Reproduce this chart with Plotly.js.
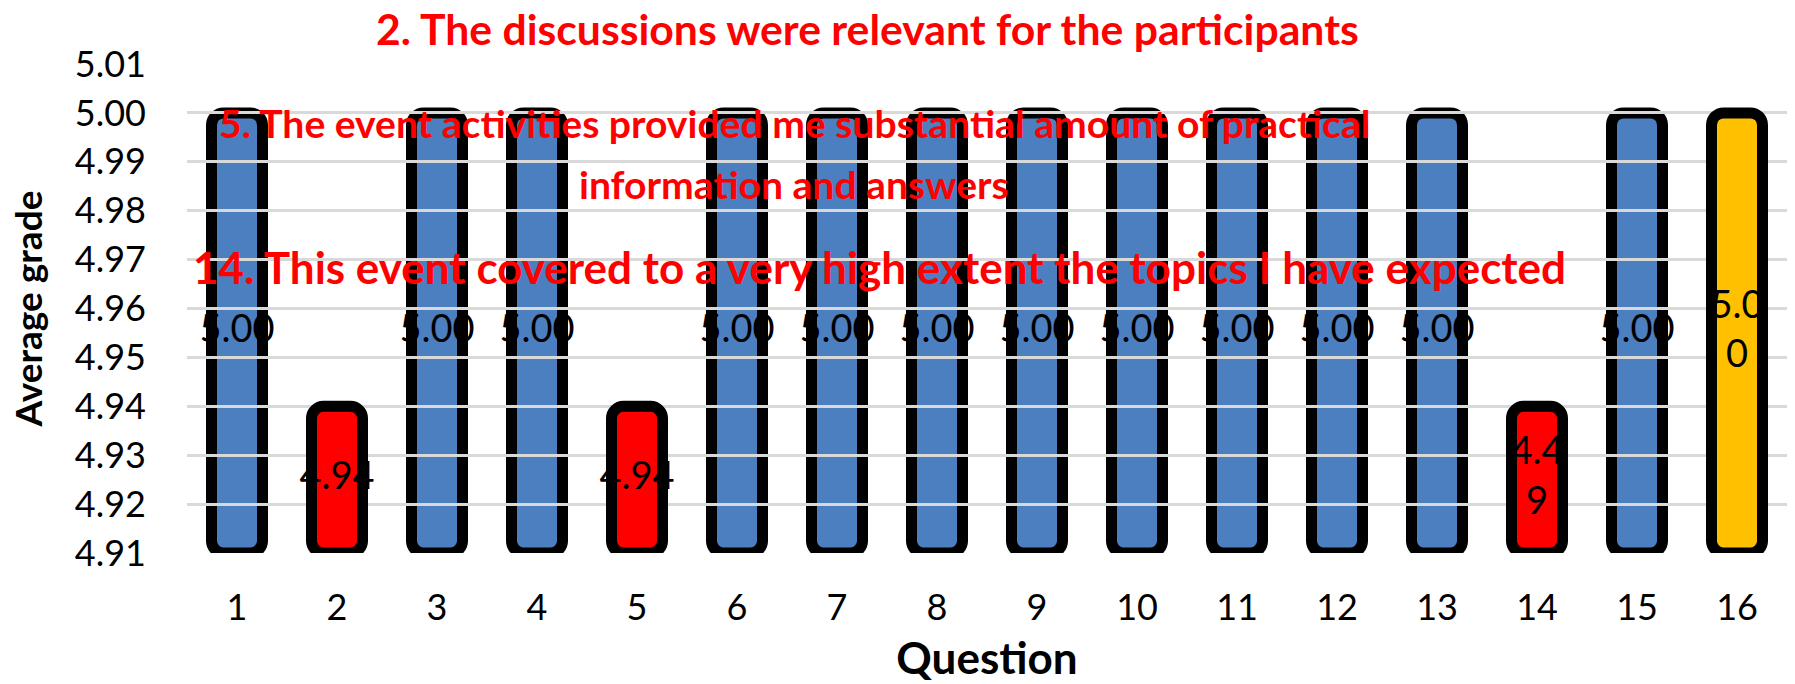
<!DOCTYPE html>
<html>
<head>
<meta charset="utf-8">
<script src="https://cdn.plot.ly/plotly-3.0.1.min.js"></script>
<style>
html,body{margin:0;padding:0;background:#ffffff;}
#chart{width:1795px;height:684px;}
</style>
</head>
<body>
<div id="chart"></div>
<script>
// ---- data ----
const questions = [1,2,3,4,5,6,7,8,9,10,11,12,13,14,15,16];
const averages = [5.00,4.94,5.00,5.00,4.94,5.00,5.00,5.00,5.00,5.00,5.00,5.00,5.00,4.94,5.00,5.00];
const valueLabels = ["5.00","4.94","5.00","5.00","4.94","5.00","5.00","5.00","5.00","5.00","5.00","5.00","5.00","4.4<br>9","5.00","5.0<br>0"];
const barGroups = ["blue","red","blue","blue","red","blue","blue","blue","blue","blue","blue","blue","blue","red","blue","yellow"];
const yTickValues = [4.91,4.92,4.93,4.94,4.95,4.96,4.97,4.98,4.99,5.00,5.01];
const xTickLabels = ["1","2","3","4","5","6","7","8","9","10","11","12","13","14","15","16"];
const notes = [
  "2. The discussions were relevant for the participants",
  "5. The event activities provided me substantial amount of practical<br>information and answers",
  "14. This event covered to a very high extent the topics I have expected"
];
const yTitle = "Average grade";
const xTitle = "Question";

// ---- styles ----
const groupColors = {blue:"#4c7fc0", red:"#ff0000", yellow:"#ffc000"};
const axisFloor = yTickValues[0];
const axisTop = yTickValues[yTickValues.length-1];
const xRange = [0.5, 16.5];
const yRange = [axisFloor, axisTop];
const FONT = "Lato, 'Open Sans', sans-serif";
const LABEL_SIZE = 38;

function pick(arr, cond){ return arr.filter((_,i)=>cond(i)); }
const isBlue = i => barGroups[i] === "blue";
const isAccent = i => barGroups[i] !== "blue";

function barTrace(cond, xa, ya){
  return {
    type:"bar",
    x: pick(questions, cond),
    y: pick(averages, cond).map(v => v - axisFloor),
    base: axisFloor,
    width:0.51,
    marker:{color: pick(barGroups, cond).map(g => groupColors[g]), line:{color:"#000000", width:11}},
    cliponaxis:false,
    hoverinfo:"skip",
    xaxis:xa, yaxis:ya,
    showlegend:false
  };
}

// value labels centred in each bar (between axis floor and bar top)
function labelTrace(cond, xa, ya){
  return {
    type:"scatter", mode:"text",
    x: pick(questions, cond),
    y: pick(averages, cond).map(v => (v + axisFloor) / 2),
    text: pick(valueLabels, cond),
    textposition:"middle center",
    textfont:{family:FONT, size:LABEL_SIZE, color:"#000000"},
    cliponaxis:false,
    hoverinfo:"skip",
    xaxis:xa, yaxis:ya,
    showlegend:false
  };
}

// fit annotation font size to a target pixel width using canvas metrics
function fitSize(text, targetWidth, fallback){
  try{
    const c = document.createElement("canvas").getContext("2d");
    c.font = "bold 100px Lato";
    const w = c.measureText(text).width;
    if(!w) return fallback;
    return 100 * targetWidth / w;
  }catch(e){ return fallback; }
}

// each note is laid out line by line (reference line pitch ~61px)
const noteWidths = [987, 1154, 1378];
const noteX = [0.4256, 0.3795, 0.4325];
const noteY = [1.0736, 0.881, 0.585];
const LINE_PITCH = 61 / 489; // in paper units of the plot height

const annotations = [];
notes.forEach((t,i)=>{
  const lines = t.split("<br>");
  const size = Math.round(fitSize(lines[0], noteWidths[i], 38)*10)/10;
  lines.forEach((line,k)=>{
    annotations.push({
      text:line, xref:"paper", yref:"paper", x:noteX[i], y:noteY[i] - k*LINE_PITCH,
      xanchor:"center", yanchor:"middle", showarrow:false, align:"center",
      font:{family:FONT, size:size, color:"#ff0000", weight:"bold"}
    });
  });
});

const hidden = {visible:false, fixedrange:true};

const layout = {
  width:1795, height:684,
  margin:{l:187, r:8, t:64, b:131, pad:0},
  paper_bgcolor:"#ffffff",
  plot_bgcolor:"rgba(0,0,0,0)",
  barcornerradius:12,
  font:{family:FONT, color:"#000000"},
  xaxis: Object.assign({range:xRange, anchor:"y", domain:[0,1]}, hidden),
  yaxis: Object.assign({range:yRange, anchor:"x", domain:[0,1]}, hidden),
  xaxis2:{
    range:xRange, anchor:"y2", domain:[0,1],
    tickvals:questions, ticktext:xTickLabels,
    showgrid:false, zeroline:false, showline:false, ticks:"",
    ticklabelstandoff:30,
    tickfont:{family:FONT, size:36, color:"#000000"},
    title:{text:xTitle, font:{family:FONT, size:44, color:"#000000", weight:"bold"}, standoff:16},
    fixedrange:true
  },
  yaxis2:{
    range:yRange, anchor:"x2", domain:[0,1],
    tickvals:yTickValues, ticktext:yTickValues.map(v=>v.toFixed(2)),
    showgrid:true, gridcolor:"#d9d9d9", gridwidth:3,
    zeroline:false, showline:false, ticks:"",
    ticklabelstandoff:40,
    tickfont:{family:FONT, size:36, color:"#000000"},
    title:{text:yTitle, font:{family:FONT, size:37, color:"#000000", weight:"bold"}, standoff:20},
    fixedrange:true
  },
  xaxis3: Object.assign({range:xRange, anchor:"y3", domain:[0,1]}, hidden),
  yaxis3: Object.assign({range:yRange, anchor:"x3", domain:[0,1]}, hidden),
  annotations: annotations
};

const data = [
  barTrace(isBlue, "x", "y"),          // blue bars, beneath the gridlines
  labelTrace(isBlue, "x2", "y2"),      // grid subplot: labels of blue bars
  barTrace(isAccent, "x3", "y3"),      // highlighted bars, above the gridlines
  labelTrace(isAccent, "x3", "y3")
];

Plotly.newPlot("chart", data, layout, {displayModeBar:false, staticPlot:true});
</script>
</body>
</html>
